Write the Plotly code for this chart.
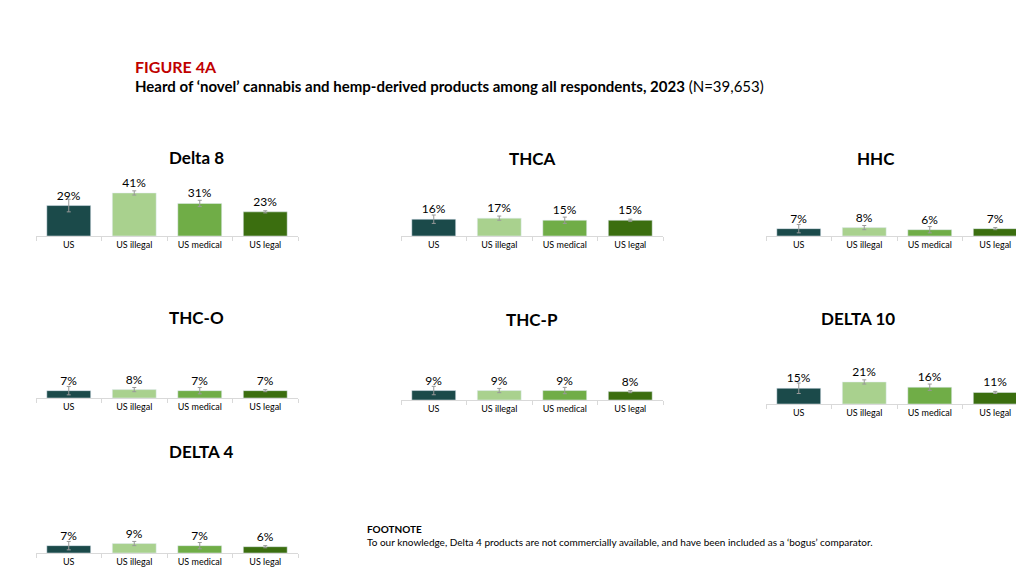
import plotly.graph_objects as go

cats = ["US", "US illegal", "US medical", "US legal"]
colors = ["#1b4a4a", "#a9d18e", "#70ad47", "#3b6e0f"]
products = ["Delta 8", "THCA", "HHC", "THC-O", "THC-P", "DELTA 10", "DELTA 4"]
values = {
    "Delta 8": [29, 41, 31, 23],
    "THCA": [16, 17, 15, 15],
    "HHC": [7, 8, 6, 7],
    "THC-O": [7, 8, 7, 7],
    "THC-P": [9, 9, 9, 8],
    "DELTA 10": [15, 21, 16, 11],
    "DELTA 4": [7, 9, 7, 6],
}
errors = {
    "Delta 8": [6, 2, 3, 1],
    "THCA": [4, 2, 3, 1],
    "HHC": [4, 2, 3, 1],
    "THC-O": [4, 2, 3, 1],
    "THC-P": [4, 2, 3, 1],
    "DELTA 10": [5, 2, 3, 1],
    "DELTA 4": [4, 2, 3, 1],
}

W, H = 1024, 576
# panel geometry in pixels: (x0, x1, baseline, title_y)
geom = {
    "Delta 8": (28, 290, 228, 137),
    "THCA": (393, 655, 228, 138),
    "HHC": (758, 1020, 228, 138),
    "THC-O": (28, 290, 390, 309),
    "THC-P": (393, 655, 392, 311),
    "DELTA 10": (758, 1020, 396, 310),
    "DELTA 4": (28, 290, 545, 456),
}
PXH = 63
YMAX = 60

fig = go.Figure()
layout = dict(width=W, height=H, margin=dict(l=0, r=0, t=0, b=0),
              paper_bgcolor="white", plot_bgcolor="white", showlegend=False,
              font=dict(family="Poppins, Lato, sans-serif", color="black"),
              bargap=0.33)
annotations = []
for i, p in enumerate(products):
    n = "" if i == 0 else str(i + 1)
    x0, x1, base, ty = geom[p]
    fig.add_trace(go.Bar(
        x=cats, y=values[p], marker_color=colors,
        error_y=dict(type="data", array=errors[p], color="#999999", thickness=1, width=2),
        text=[f"{v}%" for v in values[p]], textposition="outside",
        textfont=dict(size=12, family="Lato", color="black"), cliponaxis=False,
        xaxis="x" + n, yaxis="y" + n))
    layout["xaxis" + n] = dict(domain=[x0 / W, x1 / W], anchor="y" + n,
                               showline=True, linecolor="#d9d9d9", ticks="outside",
                               tickcolor="#d9d9d9", ticklen=4, tickson="boundaries",
                               tickfont=dict(size=9, family="Lato", color="black"))
    layout["yaxis" + n] = dict(domain=[1 - base / H, 1 - (base - PXH) / H], anchor="x" + n,
                               range=[0, YMAX], visible=False)
    annotations.append(dict(text=f"<b>{p}</b>", x=(x0 + x1) / 2 / W, y=1 - ty / H,
                            xref="paper", yref="paper", showarrow=False,
                            font=dict(size=17, family="Lato", color="black")))

annotations += [
    dict(text="<b>FIGURE 4A</b>", x=125 / W, y=1 - 47 / H, xref="paper", yref="paper",
         xanchor="left", showarrow=False, font=dict(size=16, family="Lato", color="#c00000")),
    dict(text="<b>Heard of ‘novel’ cannabis and hemp-derived products among all respondents, 2023</b> (N=39,653)",
         x=125 / W, y=1 - 67 / H, xref="paper", yref="paper", xanchor="left", showarrow=False,
         font=dict(size=15, family="Lato", color="black")),
    dict(text="<b>FOOTNOTE</b><br>To our knowledge, Delta 4 products are not commercially available, and have been included as a ‘bogus’ comparator.",
         x=357 / W, y=1 - 542 / H, xref="paper", yref="paper", xanchor="left", align="left",
         showarrow=False, font=dict(size=10, family="Lato", color="black")),
]
layout["annotations"] = annotations
fig.update_layout(**layout)
fig.write_html("out.html")
